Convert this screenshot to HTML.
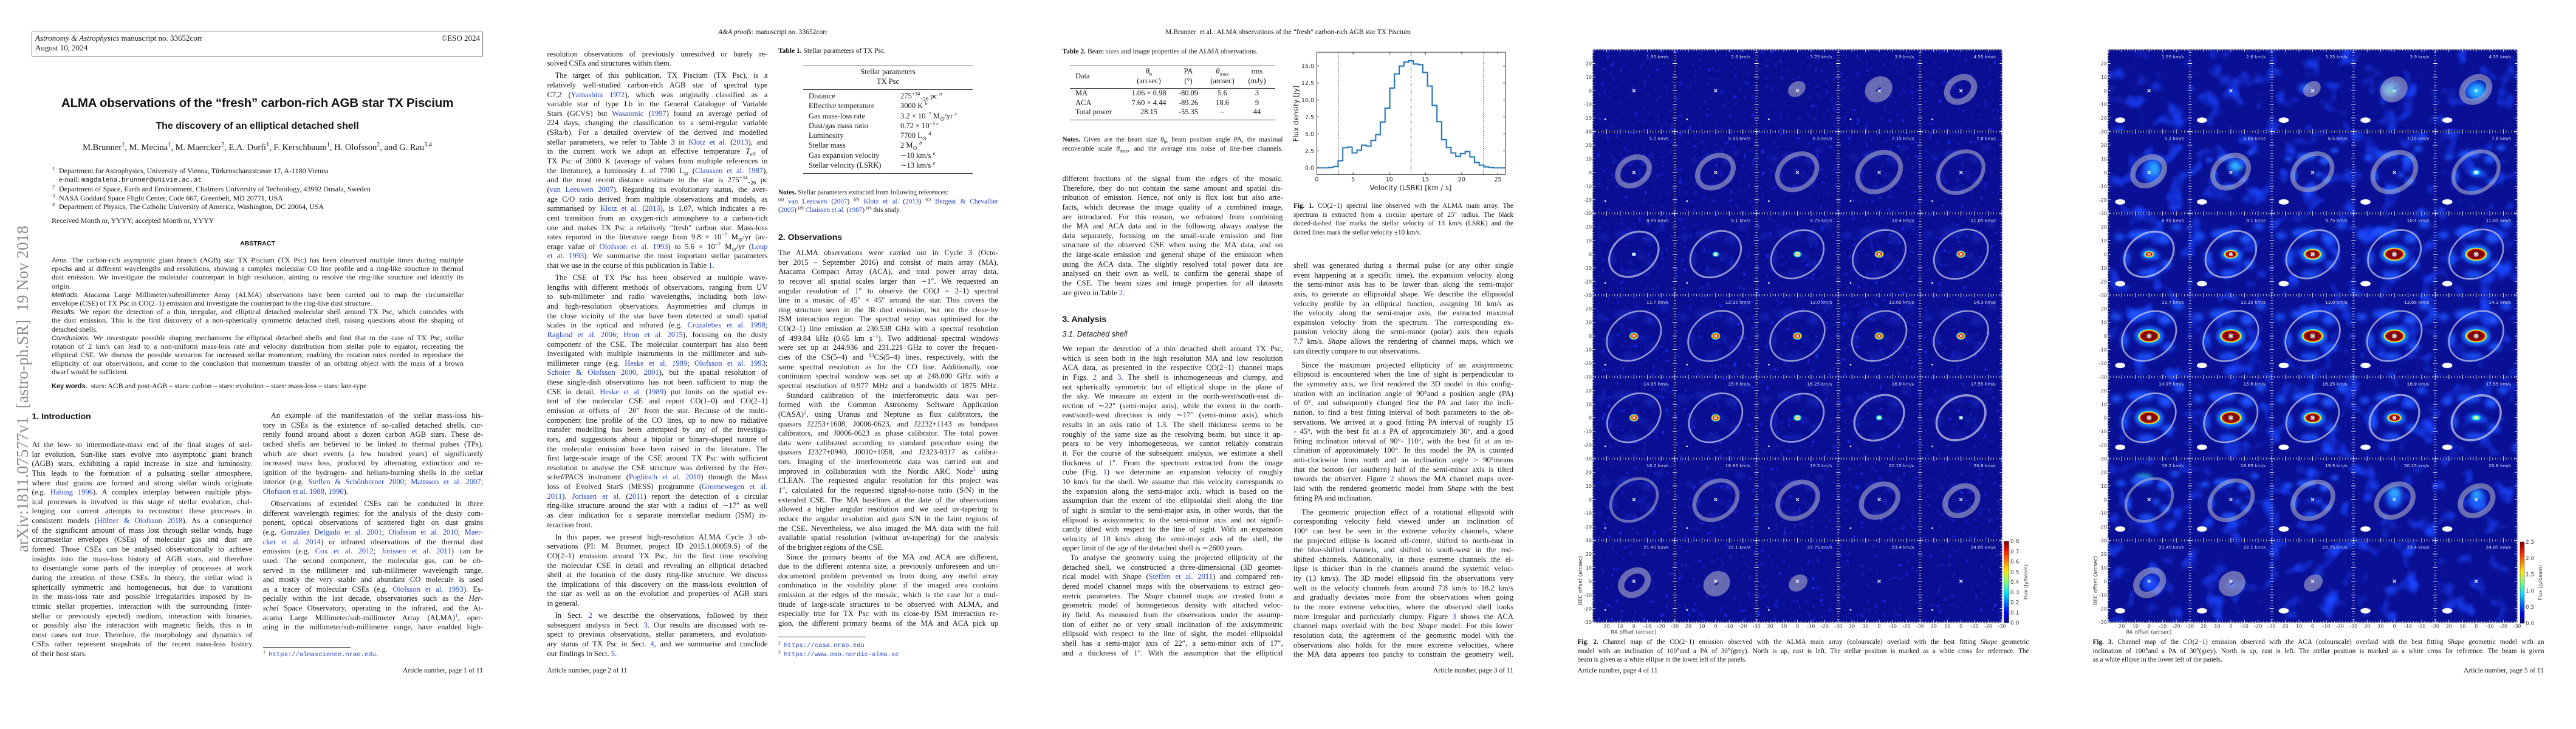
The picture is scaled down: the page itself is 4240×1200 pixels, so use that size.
<!DOCTYPE html>
<html><head><meta charset="utf-8">
<style>
*{margin:0;padding:0;box-sizing:border-box}
body{width:4240px;height:1200px;position:relative;background:#fff;overflow:hidden;font-family:"Liberation Serif",serif;color:#141414}
.pg{position:absolute;top:0;width:848px;height:1200px;overflow:hidden;background:#fff}
.a{position:absolute}
.col{position:absolute;font-size:12.6px;overflow:hidden}
.L{height:15.65px;line-height:15.65px;overflow:hidden;text-align:justify;text-align-last:justify}
.e{text-align-last:left}
.i{text-indent:13px}
.g{margin-top:4.3px}
.g7{margin-top:7.3px}
.c{color:#2343c4}
.sans{font-family:"Liberation Sans",sans-serif}
.mono{font-family:"Liberation Mono",monospace}
.cap{position:absolute;font-size:11.2px}
.cap .L{height:14.5px;line-height:14.5px}
.hd{position:absolute;left:0;width:848px;text-align:center;font-size:11.5px;line-height:15px;top:46px}
.an{position:absolute;font-size:11.5px;line-height:15px;top:1097px}
sup,sub{font-size:70%;line-height:0}
.h2{position:absolute;font-family:"Liberation Sans",sans-serif;font-size:14px;font-weight:bold;line-height:16px}
.rule{position:absolute;border-top:1px solid #333;height:0}
.ab .L{height:14.2px;line-height:14.2px}
</style></head><body>

<svg width="0" height="0" style="position:absolute;left:0;top:0">
<defs>
<linearGradient id="jet" x1="0" y1="1" x2="0" y2="0">
<stop offset="0" stop-color="#00007f"/><stop offset=".12" stop-color="#0000ff"/><stop offset=".36" stop-color="#00e0ff"/><stop offset=".5" stop-color="#7dff7a"/><stop offset=".64" stop-color="#ffe600"/><stop offset=".88" stop-color="#ff1400"/><stop offset="1" stop-color="#7f0000"/>
</linearGradient>
<filter id="bl" x="-60%" y="-60%" width="220%" height="220%"><feGaussianBlur stdDeviation="1.2"/></filter>
<filter id="bl2" x="-60%" y="-60%" width="220%" height="220%"><feGaussianBlur stdDeviation="1.8"/></filter>
<filter id="nz4" filterUnits="userSpaceOnUse" x="0" y="0" width="300" height="420" color-interpolation-filters="sRGB"><feTurbulence type="fractalNoise" baseFrequency=".3" numOctaves="2" seed="4"/><feColorMatrix type="matrix" values="0 0 0 0 .08 0 0 0 0 .16 0 0 0 0 .9 5 0 0 0 -3.2"/></filter>
<filter id="nz5" filterUnits="userSpaceOnUse" x="0" y="0" width="300" height="420" color-interpolation-filters="sRGB"><feTurbulence type="fractalNoise" baseFrequency=".07" numOctaves="2" seed="9"/><feColorMatrix type="matrix" values="0 0 0 0 .1 0 0 0 0 .27 0 0 0 0 1 3.5 0 0 0 -1.95"/></filter>
<pattern id="p4" width="60" height="60" patternUnits="userSpaceOnUse"><path d="M28.9 28.9L31.1 31.1M28.9 31.1L31.1 28.9" stroke="#fff" stroke-width=".55"/><circle cx="9" cy="51" r=".6" fill="#fff"/></pattern>
<pattern id="p5" width="60" height="60" patternUnits="userSpaceOnUse"><path d="M28.9 28.9L31.1 31.1M28.9 31.1L31.1 28.9" stroke="#fff" stroke-width=".55"/><ellipse cx="8.8" cy="51.6" rx="3.7" ry="2" fill="#fff"/></pattern>

<g id="rings" fill="none" stroke="#b8b8cc" stroke-opacity=".55">
<ellipse transform="translate(149.5 28.8) rotate(-35)" rx="6.9" ry="5.3" fill="#b8b8cc" fill-opacity=".55" stroke="none"/>
<ellipse transform="translate(209.6 29) rotate(-35)" rx="6.5" ry="5" stroke-width="8"/>
<ellipse transform="translate(269.7 29.1) rotate(-35)" rx="10.65" ry="8.2" stroke-width="4.5"/>
<ellipse transform="translate(29.7 89.2) rotate(-35)" rx="12.45" ry="9.6" stroke-width="3.9"/>
<ellipse transform="translate(89.8 89.4) rotate(-35)" rx="14.1" ry="10.9" stroke-width="3.6"/>
<ellipse transform="translate(149.8 89.5) rotate(-35)" rx="15.6" ry="12" stroke-width="3.4"/>
<ellipse transform="translate(209.9 89.7) rotate(-35)" rx="16.95" ry="13.1" stroke-width="3.5"/>
<ellipse transform="translate(269.9 89.8) rotate(-35)" rx="17.9" ry="13.8" stroke-width="2.8"/>
<g stroke="#d0d0e8" stroke-opacity=".7">
<ellipse transform="translate(30 150) rotate(-35)" rx="19.5" ry="15" stroke-width="1.4"/>
<ellipse transform="translate(90 150) rotate(-35)" rx="20" ry="15.4" stroke-width="1.3"/>
<ellipse transform="translate(150 150) rotate(-35)" rx="20.8" ry="16" stroke-width="1.2"/>
<ellipse transform="translate(210 150) rotate(-35)" rx="20.9" ry="16.1" stroke-width="1.2"/>
<ellipse transform="translate(270 150) rotate(-35)" rx="21.3" ry="16.4" stroke-width="1.2"/>
<ellipse transform="translate(30 210) rotate(-35)" rx="21.4" ry="16.5" stroke-width="1.2"/>
<ellipse transform="translate(90 210) rotate(-35)" rx="21.7" ry="16.7" stroke-width="1.2"/>
<ellipse transform="translate(150 210) rotate(-35)" rx="21.5" ry="16.6" stroke-width="1.2"/>
<ellipse transform="translate(210 210) rotate(-35)" rx="21.5" ry="16.6" stroke-width="1.2"/>
<ellipse transform="translate(270 210) rotate(-35)" rx="21.5" ry="16.6" stroke-width="1.2"/>
<ellipse transform="translate(30 270) rotate(-35)" rx="21.1" ry="16.2" stroke-width="1.2"/>
<ellipse transform="translate(90 270) rotate(-35)" rx="21.1" ry="16.2" stroke-width="1.2"/>
<ellipse transform="translate(150 270) rotate(-35)" rx="20.8" ry="16" stroke-width="1.2"/>
<ellipse transform="translate(210 270) rotate(-35)" rx="19.6" ry="15.1" stroke-width="1.4"/>
<ellipse transform="translate(270 270) rotate(-35)" rx="19.3" ry="14.9" stroke-width="1.6"/>
</g>
<ellipse transform="translate(30.1 330.3) rotate(-35)" rx="18.4" ry="14.2" stroke-width="2"/>
<ellipse transform="translate(90.2 330.5) rotate(-35)" rx="17" ry="13.1" stroke-width="3"/>
<ellipse transform="translate(150.2 330.6) rotate(-35)" rx="15.8" ry="12.2" stroke-width="3.4"/>
<ellipse transform="translate(210.3 330.8) rotate(-35)" rx="14.4" ry="11.1" stroke-width="3.6"/>
<ellipse transform="translate(270.3 330.9) rotate(-35)" rx="12.8" ry="9.9" stroke-width="3.9"/>
<ellipse transform="translate(30.4 391) rotate(-35)" rx="10.5" ry="8.1" stroke-width="4.6"/>
<ellipse transform="translate(90.8 391.8) rotate(-35)" rx="6.1" ry="4.7" stroke-width="8.2"/>
<ellipse transform="translate(150.5 391.2) rotate(-35)" rx="7.4" ry="5.7" fill="#b8b8cc" fill-opacity=".55" stroke="none"/>
</g>

<g id="tk" fill="none">
<path d="M0 0V420M60 0V420M120 0V420M180 0V420M240 0V420M300 0V420M0 0H300M0 60H300M0 120H300M0 180H300M0 240H300M0 300H300M0 360H300M0 420H300" stroke="#0a0a30" stroke-width=".4"/>
<path d="M0 0V420M60 0V420M120 0V420M180 0V420M240 0V420M300 0V420M0 0H300M0 60H300M0 120H300M0 180H300M0 240H300M0 300H300M0 360H300M0 420H300" stroke="#e6e6ff" stroke-width="1.6" stroke-dasharray=".35 1.65" stroke-dashoffset=".175"/>
<path d="M0 0V420M60 0V420M120 0V420M180 0V420M240 0V420M300 0V420M0 0H300M0 60H300M0 120H300M0 180H300M0 240H300M0 300H300M0 360H300M0 420H300" stroke="#e6e6ff" stroke-width="3.2" stroke-dasharray=".45 9.55" stroke-dashoffset=".225"/>
</g>

<g id="vl" font-family="DejaVu Sans, sans-serif" font-size="3.3" fill="#dcdcf0" text-anchor="end">
<text x="55.5" y="6.3">1.95 km/s</text><text x="115.5" y="6.3">2.6 km/s</text><text x="175.5" y="6.3">3.25 km/s</text><text x="235.5" y="6.3">3.9 km/s</text><text x="295.5" y="6.3">4.55 km/s</text>
<text x="55.5" y="66.3">5.2 km/s</text><text x="115.5" y="66.3">5.85 km/s</text><text x="175.5" y="66.3">6.5 km/s</text><text x="235.5" y="66.3">7.15 km/s</text><text x="295.5" y="66.3">7.8 km/s</text>
<text x="55.5" y="126.3">8.45 km/s</text><text x="115.5" y="126.3">9.1 km/s</text><text x="175.5" y="126.3">9.75 km/s</text><text x="235.5" y="126.3">10.4 km/s</text><text x="295.5" y="126.3">11.05 km/s</text>
<text x="55.5" y="186.3">11.7 km/s</text><text x="115.5" y="186.3">12.35 km/s</text><text x="175.5" y="186.3">13.0 km/s</text><text x="235.5" y="186.3">13.65 km/s</text><text x="295.5" y="186.3">14.3 km/s</text>
<text x="55.5" y="246.3">14.95 km/s</text><text x="115.5" y="246.3">15.6 km/s</text><text x="175.5" y="246.3">16.25 km/s</text><text x="235.5" y="246.3">16.9 km/s</text><text x="295.5" y="246.3">17.55 km/s</text>
<text x="55.5" y="306.3">18.2 km/s</text><text x="115.5" y="306.3">18.85 km/s</text><text x="175.5" y="306.3">19.5 km/s</text><text x="235.5" y="306.3">20.15 km/s</text><text x="295.5" y="306.3">20.8 km/s</text>
<text x="55.5" y="366.3">21.45 km/s</text><text x="115.5" y="366.3">22.1 km/s</text><text x="175.5" y="366.3">22.75 km/s</text><text x="235.5" y="366.3">23.4 km/s</text><text x="295.5" y="366.3">24.05 km/s</text>
</g>

<g id="yl" font-family="DejaVu Sans, sans-serif" font-size="8" fill="#333" text-anchor="end">
<text x="76" y="25.4">20</text><text x="76" y="47.9">10</text><text x="76" y="70.3">0</text><text x="76" y="92.7">-10</text><text x="76" y="115.2">-20</text><text x="76" y="137.6">-30</text>
</g>
<g id="xl" font-family="DejaVu Sans, sans-serif" font-size="8" fill="#333" text-anchor="middle">
<text x="22.4" y="1033.5">20</text><text x="44.9" y="1033.5">10</text><text x="67.3" y="1033.5">0</text><text x="89.7" y="1033.5">-10</text><text x="112.2" y="1033.5">-20</text><text x="134.6" y="1033.5">-30</text>
</g>

<g id="rc" filter="url(#bl2)">
<ellipse cx="-6" cy="-16" rx="10" ry="3.5"/><ellipse cx="12" cy="-12" rx="5" ry="4"/><ellipse cx="14" cy="8" rx="4.5" ry="3"/><ellipse cx="-2" cy="15" rx="7" ry="2.5"/><ellipse cx="-18" cy="3" rx="2.5" ry="6"/><ellipse cx="-24" cy="-14" rx="4" ry="2.5"/><ellipse cx="22" cy="-22" rx="4" ry="2.5"/><ellipse cx="6" cy="2" rx="3" ry="2.5"/>
</g>

<g id="a1"><ellipse rx="1.6" ry="1.3" fill="#5ab0ff"/><ellipse rx=".8" ry=".7" fill="#d0f0ff"/></g>
<g id="a2"><ellipse rx="2.4" ry="1.9" fill="#00b8ff"/><ellipse rx="1.5" ry="1.2" fill="#70ff90"/></g>
<g id="a3"><ellipse rx="2.9" ry="2.3" fill="#00c8ff"/><ellipse rx="2.1" ry="1.7" fill="#c8ff30"/><ellipse rx="1.3" ry="1" fill="#ff7000"/></g>
<g id="a4"><ellipse rx="3.4" ry="2.8" fill="#00c0ff"/><ellipse rx="2.8" ry="2.3" fill="#ffe000"/><ellipse rx="2.2" ry="1.8" fill="#ff2a00"/><ellipse rx="1.5" ry="1.2" fill="#c00000"/><circle r="1" fill="#b09090"/></g>

<g id="b1"><ellipse rx="4.5" ry="3.2" fill="#1a6cff" filter="url(#bl)"/><ellipse rx="2.6" ry="1.7" fill="#30d0ff"/><ellipse rx="1.5" ry="1" fill="#c0ffd0"/></g>
<g id="b2"><ellipse rx="6" ry="4" fill="#1a6cff" filter="url(#bl)"/><ellipse rx="4" ry="2.6" fill="#10d8ff"/><ellipse rx="3.2" ry="2.1" fill="#ffe000"/><ellipse rx="2.5" ry="1.6" fill="#e01000"/></g>
<g id="b3"><ellipse rx="7.5" ry="5" fill="#1a6cff" filter="url(#bl)"/><ellipse rx="5.4" ry="3.4" fill="#10d8ff"/><ellipse rx="5" ry="3.1" fill="#80ff70"/><ellipse rx="4.7" ry="2.9" fill="#ffe000"/><ellipse rx="4.1" ry="2.5" fill="#ff1800"/><ellipse rx="3.3" ry="2" fill="#8c0000"/><circle r="1.6" fill="#a08080"/></g>
<g id="b4"><ellipse rx="9" ry="6" fill="#1a6cff" filter="url(#bl)"/><ellipse rx="6.8" ry="4.2" fill="#10d8ff"/><ellipse rx="6.3" ry="3.9" fill="#80ff70"/><ellipse rx="5.9" ry="3.6" fill="#ffe000"/><ellipse rx="5.3" ry="3.2" fill="#ff1800"/><ellipse rx="4.6" ry="2.7" fill="#880000"/><circle r="1.8" fill="#a48484"/></g>
<g id="b5"><ellipse rx="10.5" ry="7" fill="#1a6cff" filter="url(#bl)"/><ellipse rx="8.2" ry="5" fill="#10d0ff"/><ellipse rx="7.8" ry="4.7" fill="#80ff70"/><ellipse rx="7.4" ry="4.5" fill="#ffe000"/><ellipse rx="6.7" ry="4" fill="#ff1800"/><ellipse rx="6" ry="3.5" fill="#840000"/><circle r="2" fill="#a48484"/></g>
<g id="b6"><ellipse rx="4.8" ry="3.3" fill="#1a6cff" filter="url(#bl)"/><ellipse rx="3.2" ry="2" fill="#00e0ff"/><ellipse rx="2" ry="1.3" fill="#a0ff60"/></g>
</defs></svg>

<!-- PAGE 1 -->
<div class="pg" style="left:0">
<div class="a" style="left:52px;top:52px;width:743px;height:41px;border:1px solid #777"></div>
<div class="a" style="left:58px;top:55px;font-size:13px;line-height:16px"><i>Astronomy &amp; Astrophysics</i> manuscript no. 33652corr<br>August 10, 2024</div>
<div class="a" style="right:58px;top:55px;font-size:13px;line-height:16px">©ESO 2024</div>
<div class="a sans" style="left:52px;width:743px;top:157px;text-align:center;font-size:20.5px;font-weight:bold;line-height:26px;white-space:nowrap;letter-spacing:-0.2px">ALMA observations of the “fresh” carbon-rich AGB star TX Piscium</div>
<div class="a sans" style="left:52px;width:743px;top:198px;text-align:center;font-size:16px;font-weight:bold;line-height:20px">The discovery of an elliptical detached shell</div>
<div class="a" style="left:52px;width:743px;top:234px;text-align:center;font-size:14.5px;line-height:18px;white-space:nowrap">M.Brunner<sup>1</sup>, M. Mecina<sup>1</sup>, M. Maercker<sup>2</sup>, E.A. Dorfi<sup>1</sup>, F. Kerschbaum<sup>1</sup>, H. Olofsson<sup>2</sup>, and G. Rau<sup>3,4</sup></div>
<div class="a" style="left:86px;top:274px;font-size:12px;line-height:14.2px;white-space:nowrap">
<div><span style="display:inline-block;width:11px"><sup>1</sup></span>Department for Astrophysics, University of Vienna, Türkenschanzstrasse 17, A-1180 Vienna</div>
<div><span style="display:inline-block;width:11px"></span>e-mail: <span class="mono" style="font-size:11px">magdalena.brunner@univie.ac.at</span></div>
<div><span style="display:inline-block;width:11px"><sup>2</sup></span>Department of Space, Earth and Environment, Chalmers University of Technology, 43992 Onsala, Sweden</div>
<div><span style="display:inline-block;width:11px"><sup>3</sup></span>NASA Goddard Space Flight Center, Code 667, Greenbelt, MD 20771, USA</div>
<div><span style="display:inline-block;width:11px"><sup>4</sup></span>Department of Physics, The Catholic University of America, Washington, DC 20064, USA</div>
</div>
<div class="a" style="left:85px;top:356px;font-size:12px;line-height:14px">Received Month nr, YYYY; accepted Month nr, YYYY</div>
<div class="a sans" style="left:0;width:848px;top:394px;text-align:center;font-size:10.5px;font-weight:bold;line-height:14px">ABSTRACT</div>
<div class="col ab" style="left:85px;top:421px;width:678px;font-size:12px">
<div class="L"><i class="sans" style="font-size:11px">Aims.</i> The carbon-rich asymptotic giant branch (AGB) star TX Piscium (TX Psc) has been observed multiple times during multiple</div>
<div class="L">epochs and at different wavelengths and resolutions, showing a complex molecular CO line profile and a ring-like structure in thermal</div>
<div class="L">dust emission. We investigate the molecular counterpart in high resolution, aiming to resolve the ring-like structure and identify its</div>
<div class="L e">origin.</div>
<div class="L"><i class="sans" style="font-size:11px">Methods.</i> Atacama Large Millimeter/submillimeter Array (ALMA) observations have been carried out to map the circumstellar</div>
<div class="L e">envelope (CSE) of TX Psc in CO(2–1) emission and investigate the counterpart to the ring-like dust structure.</div>
<div class="L"><i class="sans" style="font-size:11px">Results.</i> We report the detection of a thin, irregular, and elliptical detached molecular shell around TX Psc, which coincides with</div>
<div class="L">the dust emission. This is the first discovery of a non-spherically symmetric detached shell, raising questions about the shaping of</div>
<div class="L e">detached shells.</div>
<div class="L"><i class="sans" style="font-size:11px">Conclusions.</i> We investigate possible shaping mechanisms for elliptical detached shells and find that in the case of TX Psc, stellar</div>
<div class="L">rotation of 2 km/s can lead to a non-uniform mass-loss rate and velocity distribution from stellar pole to equator, recreating the</div>
<div class="L">elliptical CSE. We discuss the possible scenarios for increased stellar momentum, enabling the rotation rates needed to reproduce the</div>
<div class="L">ellipticity of our observations, and come to the conclusion that momentum transfer of an orbiting object with the mass of a brown</div>
<div class="L e">dwarf would be sufficient.</div>
</div>
<div class="a" style="left:85px;top:628px;font-size:12px;line-height:14px"><b class="sans" style="font-size:11px">Key words.</b>&nbsp; stars: AGB and post-AGB – stars: carbon – stars: evolution – stars: mass-loss – stars: late-type</div>
<div class="h2" style="left:52.5px;top:677px">1. Introduction</div>
<div class="col" style="left:52.5px;top:725px;width:363px;height:362px">
<div class="L">At the low- to intermediate-mass end of the final stages of stel-</div>
<div class="L">lar evolution, Sun-like stars evolve into asymptotic giant branch</div>
<div class="L">(AGB) stars, exhibiting a rapid increase in size and luminosity.</div>
<div class="L">This leads to the formation of a pulsating stellar atmosphere,</div>
<div class="L">where dust grains are formed and strong stellar winds originate</div>
<div class="L">(e.g. <span class="c">Habing 1996</span>). A complex interplay between multiple phys-</div>
<div class="L">ical processes is involved in this stage of stellar evolution, chal-</div>
<div class="L">lenging our current attempts to reconstruct these processes in</div>
<div class="L">consistent models (<span class="c">Höfner &amp; Olofsson 2018</span>). As a consequence</div>
<div class="L">of the significant amount of mass lost through stellar winds, huge</div>
<div class="L">circumstellar envelopes (CSEs) of molecular gas and dust are</div>
<div class="L">formed. Those CSEs can be analysed observationally to achieve</div>
<div class="L">insights into the mass-loss history of AGB stars, and therefore</div>
<div class="L">to disentangle some parts of the interplay of processes at work</div>
<div class="L">during the creation of these CSEs. In theory, the stellar wind is</div>
<div class="L">spherically symmetric and homogeneous, but due to variations</div>
<div class="L">in the mass-loss rate and possible irregularities imposed by in-</div>
<div class="L">trinsic stellar properties, interaction with the surrounding (inter-</div>
<div class="L">stellar or previously ejected) medium, interaction with binaries,</div>
<div class="L">or possibly also the interaction with magnetic fields, this is in</div>
<div class="L">most cases not true. Therefore, the morphology and dynamics of</div>
<div class="L">CSEs rather represent snapshots of the recent mass-loss history</div>
<div class="L e">of their host stars.</div>
</div>
<div class="col" style="left:432.7px;top:677px;width:362.5px;height:368px">
<div class="L i">An example of the manifestation of the stellar mass-loss his-</div>
<div class="L">tory in CSEs is the existence of so-called detached shells, cur-</div>
<div class="L">rently found around about a dozen carbon AGB stars. These de-</div>
<div class="L">tached shells are believed to be linked to thermal pulses (TPs),</div>
<div class="L">which are short events (a few hundred years) of significantly</div>
<div class="L">increased mass loss, produced by alternating extinction and re-</div>
<div class="L">ignition of the hydrogen- and helium-burning shells in the stellar</div>
<div class="L">interior (e.g. <span class="c">Steffen &amp; Schönberner 2000</span>; <span class="c">Mattsson et al. 2007</span>;</div>
<div class="L e"><span class="c">Olofsson et al. 1988</span>, <span class="c">1990</span>).</div>
<div class="L i g">Observations of extended CSEs can be conducted in three</div>
<div class="L">different wavelength regimes: for the analysis of the dusty com-</div>
<div class="L">ponent, optical observations of scattered light on dust grains</div>
<div class="L">(e.g. <span class="c">González Delgado et al. 2001</span>; <span class="c">Olofsson et al. 2010</span>; <span class="c">Maer-</span></div>
<div class="L"><span class="c">cker et al. 2014</span>) or infrared observations of the thermal dust</div>
<div class="L">emission (e.g. <span class="c">Cox et al. 2012</span>; <span class="c">Jorissen et al. 2011</span>) can be</div>
<div class="L">used. The second component, the molecular gas, can be ob-</div>
<div class="L">served in the millimeter and sub-millimeter wavelength range,</div>
<div class="L">and mostly the very stable and abundant CO molecule is used</div>
<div class="L">as a tracer of molecular CSEs (e.g. <span class="c">Olofsson et al. 1993</span>). Es-</div>
<div class="L">pecially within the last decade, observatories such as the <i>Her-</i></div>
<div class="L"><i>schel</i> Space Observatory, operating in the infrared, and the At-</div>
<div class="L">acama Large Millimeter/sub-millimeter Array (ALMA)<sup class="c">1</sup>, oper-</div>
<div class="L">ating in the millimeter/sub-millimeter range, have enabled high-</div>
</div>
<div class="rule" style="left:433px;top:1065px;width:144px"></div>
<div class="a" style="left:433px;top:1070px;font-size:11px;line-height:14px"><sup>1</sup>&nbsp; <span class="mono c" style="font-size:10.5px">https://almascience.nrao.edu</span>.</div>
<div class="an" style="right:53px">Article number, page 1 of 11</div>
<div class="a" style="left:22px;top:909px;transform-origin:0 0;transform:rotate(-90deg);font-size:27px;line-height:30px;white-space:pre;color:#8c8c8c">arXiv:1811.07577v1  [astro-ph.SR]  19 Nov 2018</div>
</div>

<!-- PAGE 2 -->
<div class="pg" style="left:848px">
<div class="hd"><i>A&amp;A proofs:</i> manuscript no. 33652corr</div>
<div class="col" style="left:52.5px;top:81.7px;width:363px;height:1005px">
<div class="L">resolution observations of previously unresolved or barely re-</div>
<div class="L e">solved CSEs and structures within them.</div>
<div class="L i g">The target of this publication, TX Piscium (TX Psc), is a</div>
<div class="L">relatively well-studied carbon-rich AGB star of spectral type</div>
<div class="L">C7,2 (<span class="c">Yamashita 1972</span>), which was originally classified as a</div>
<div class="L">variable star of type Lb in the General Catalogue of Variable</div>
<div class="L">Stars (GCVS) but <span class="c">Wasatonic</span> (<span class="c">1997</span>) found an average period of</div>
<div class="L">224 days, changing the classification to a semi-regular variable</div>
<div class="L">(SRa/b). For a detailed overview of the derived and modelled</div>
<div class="L">stellar parameters, we refer to Table 3 in <span class="c">Klotz et al.</span> (<span class="c">2013</span>), and</div>
<div class="L">in the current work we adopt an effective temperature <i>T</i><sub>eff</sub> of</div>
<div class="L">TX Psc of 3000 K (average of values from multiple references in</div>
<div class="L">the literature), a luminosity <i>L</i> of 7700 L<sub>⊙</sub> (<span class="c">Claussen et al. 1987</span>),</div>
<div class="L">and the most recent distance estimate to the star is 275<sup>+34</sup><sub>−26</sub> pc</div>
<div class="L">(<span class="c">van Leeuwen 2007</span>). Regarding its evolutionary status, the aver-</div>
<div class="L">age C/O ratio derived from multiple observations and models, as</div>
<div class="L">summarised by <span class="c">Klotz et al.</span> (<span class="c">2013</span>), is 1.07, which indicates a re-</div>
<div class="L">cent transition from an oxygen-rich atmosphere to a carbon-rich</div>
<div class="L">one and makes TX Psc a relatively "fresh" carbon star. Mass-loss</div>
<div class="L">rates reported in the literature range from 9.8 × 10<sup>−7</sup> M<sub>⊙</sub>/yr (av-</div>
<div class="L">erage value of <span class="c">Olofsson et al. 1993</span>) to 5.6 × 10<sup>−7</sup> M<sub>⊙</sub>/yr (<span class="c">Loup</span></div>
<div class="L"><span class="c">et al. 1993</span>). We summarise the most important stellar parameters</div>
<div class="L e">that we use in the course of this publication in Table <span class="c">1</span>.</div>
<div class="L i g">The CSE of TX Psc has been observed at multiple wave-</div>
<div class="L">lengths with different methods of observations, ranging from UV</div>
<div class="L">to sub-millimeter and radio wavelengths, including both low-</div>
<div class="L">and high-resolution observations. Asymmetries and clumps in</div>
<div class="L">the close vicinity of the star have been detected at small spatial</div>
<div class="L">scales in the optical and infrared (e.g. <span class="c">Cruzalebes et al. 1998</span>;</div>
<div class="L"><span class="c">Ragland et al. 2006</span>; <span class="c">Hron et al. 2015</span>), focusing on the dusty</div>
<div class="L">component of the CSE. The molecular counterpart has also been</div>
<div class="L">investigated with multiple instruments in the millimeter and sub-</div>
<div class="L">millimeter range (e.g. <span class="c">Heske et al. 1989</span>; <span class="c">Olofsson et al. 1993</span>;</div>
<div class="L"><span class="c">Schöier &amp; Olofsson 2000</span>, <span class="c">2001</span>), but the spatial resolution of</div>
<div class="L">these single-dish observations has not been sufficient to map the</div>
<div class="L">CSE in detail. <span class="c">Heske et al.</span> (<span class="c">1989</span>) put limits on the spatial ex-</div>
<div class="L">tent of the molecular CSE and report CO(1–0) and CO(2–1)</div>
<div class="L">emission at offsets of &nbsp;20″ from the star. Because of the multi-</div>
<div class="L">component line profile of the CO lines, up to now no radiative</div>
<div class="L">transfer modelling has been attempted by any of the investiga-</div>
<div class="L">tors, and suggestions about a bipolar or binary-shaped nature of</div>
<div class="L">the molecular emission have been raised in the literature. The</div>
<div class="L">first large-scale image of the CSE around TX Psc with sufficient</div>
<div class="L">resolution to analyse the CSE structure was delivered by the <i>Her-</i></div>
<div class="L"><i>schel</i>/PACS instrument (<span class="c">Poglitsch et al. 2010</span>) through the Mass</div>
<div class="L">loss of Evolved StarS (MESS) programme (<span class="c">Groenewegen et al.</span></div>
<div class="L"><span class="c">2011</span>). <span class="c">Jorissen et al.</span> (<span class="c">2011</span>) report the detection of a circular</div>
<div class="L">ring-like structure around the star with a radius of ∼17″ as well</div>
<div class="L">as clear indication for a separate interstellar medium (ISM) in-</div>
<div class="L e">teraction front.</div>
<div class="L i g">In this paper, we present high-resolution ALMA Cycle 3 ob-</div>
<div class="L">servations (PI: M. Brunner, project ID 2015.1.00059.S) of the</div>
<div class="L">CO(2–1) emission around TX Psc, for the first time resolving</div>
<div class="L">the molecular CSE in detail and revealing an elliptical detached</div>
<div class="L">shell at the location of the dusty ring-like structure. We discuss</div>
<div class="L">the implications of this discovery on the mass-loss evolution of</div>
<div class="L">the star as well as on the evolution and properties of AGB stars</div>
<div class="L e">in general.</div>
<div class="L i g">In Sect. <span class="c">2</span> we describe the observations, followed by their</div>
<div class="L">subsequent analysis in Sect. <span class="c">3</span>. Our results are discussed with re-</div>
<div class="L">spect to previous observations, stellar parameters, and evolution-</div>
<div class="L">ary status of TX Psc in Sect. <span class="c">4</span>, and we summarise and conclude</div>
<div class="L e">our findings in Sect. <span class="c">5</span>.</div>
</div>
<div class="a" style="left:433px;top:77px;font-size:11.5px;line-height:14px"><b>Table 1.</b> Stellar parameters of TX Psc.</div>
<div class="rule" style="left:474px;top:108px;width:279px"></div>
<div class="a" style="left:474px;top:110px;width:279px;text-align:center;font-size:12.5px;line-height:16px">Stellar parameters<br>TX Psc</div>
<div class="rule" style="left:474px;top:147px;width:279px"></div>
<div class="a" style="left:483px;top:150px;width:270px;font-size:12.5px;line-height:16.3px;white-space:nowrap">
<div>Distance<span class="a" style="left:151px">275<sup>+34</sup><sub>−26</sub> pc <sup><i>a</i></sup></span></div>
<div>Effective temperature<span class="a" style="left:151px">3000 K <sup><i>b</i></sup></span></div>
<div>Gas mass-loss rate<span class="a" style="left:151px">3.2 × 10<sup>−7</sup> M<sub>⊙</sub>/yr <sup><i>c</i></sup></span></div>
<div>Dust/gas mass ratio<span class="a" style="left:151px">0.72 × 10<sup>−3 <i>c</i></sup></span></div>
<div>Luminosity<span class="a" style="left:151px">7700 L<sub>⊙</sub> <sup><i>d</i></sup></span></div>
<div>Stellar mass<span class="a" style="left:151px">2 M<sub>⊙</sub> <sup><i>b</i></sup></span></div>
<div>Gas expansion velocity<span class="a" style="left:151px">∼10 km/s <sup><i>e</i></sup></span></div>
<div>Stellar velocity (LSRK)<span class="a" style="left:151px">∼13 km/s <sup><i>e</i></sup></span></div>
</div>
<div class="rule" style="left:474px;top:285px;width:279px;border-top-width:1.5px"></div>
<div class="cap" style="left:433px;top:310px;width:362px">
<div class="L e"><b>Notes.</b> Stellar parameters extracted from following references:</div>
<div class="L"><sup>(<i>a</i>)</sup> <span class="c">van Leeuwen</span> (<span class="c">2007</span>) <sup>(<i>b</i>)</sup> <span class="c">Klotz et al.</span> (<span class="c">2013</span>) <sup>(<i>c</i>)</sup> <span class="c">Bergeat &amp; Chevallier</span></div>
<div class="L e">(<span class="c">2005</span>) <sup>(<i>d</i>)</sup> <span class="c">Claussen et al.</span> (<span class="c">1987</span>) <sup>(<i>e</i>)</sup> this study.</div>
</div>
<div class="h2" style="left:433px;top:382px">2. Observations</div>
<div class="col" style="left:433px;top:409px;width:362px;height:630px">
<div class="L">The ALMA observations were carried out in Cycle 3 (Octo-</div>
<div class="L">ber 2015 – September 2016) and consist of main array (MA),</div>
<div class="L">Atacama Compact Array (ACA), and total power array data,</div>
<div class="L">to recover all spatial scales larger than ∼1″. We requested an</div>
<div class="L">angular resolution of 1″ to observe the CO(J = 2–1) spectral</div>
<div class="L">line in a mosaic of 45″ × 45″ around the star. This covers the</div>
<div class="L">ring structure seen in the IR dust emission, but not the close-by</div>
<div class="L">ISM interaction region. The spectral setup was optimised for the</div>
<div class="L">CO(2–1) line emission at 230.538 GHz with a spectral resolution</div>
<div class="L">of 499.84 kHz (0.65 km s<sup>−1</sup>). Two additional spectral windows</div>
<div class="L">were set up at 244.936 and 231.221 GHz to cover the frequen-</div>
<div class="L">cies of the CS(5–4) and <sup>13</sup>CS(5–4) lines, respectively, with the</div>
<div class="L">same spectral resolution as for the CO line. Additionally, one</div>
<div class="L">continuum spectral window was set up at 248.000 GHz with a</div>
<div class="L">spectral resolution of 0.977 MHz and a bandwidth of 1875 MHz.</div>
<div class="L i">Standard calibration of the interferometric data was per-</div>
<div class="L">formed with the Common Astronomy Software Application</div>
<div class="L">(CASA)<sup class="c">2</sup>, using Uranus and Neptune as flux calibrators, the</div>
<div class="L">quasars J2253+1608, J0006-0623, and J2232+1143 as bandpass</div>
<div class="L">calibrators, and J0006-0623 as phase calibrator. The total power</div>
<div class="L">data were calibrated according to standard procedure using the</div>
<div class="L">quasars J2327+0940, J0010+1058, and J2323-0317 as calibra-</div>
<div class="L">tors. Imaging of the interferometric data was carried out and</div>
<div class="L">improved in collaboration with the Nordic ARC Node<sup class="c">3</sup> using</div>
<div class="L">CLEAN. The requested angular resolution for this project was</div>
<div class="L">1″, calculated for the requested signal-to-noise ratio (S/N) in the</div>
<div class="L">extended CSE. The MA baselines at the date of the observations</div>
<div class="L">allowed a higher angular resolution and we used uv-tapering to</div>
<div class="L">reduce the angular resolution and gain S/N in the faint regions of</div>
<div class="L">the CSE. Nevertheless, we also imaged the MA data with the full</div>
<div class="L">available spatial resolution (without uv-tapering) for the analysis</div>
<div class="L e">of the brighter regions of the CSE.</div>
<div class="L i">Since the primary beams of the MA and ACA are different,</div>
<div class="L">due to the different antenna size, a previously unforeseen and un-</div>
<div class="L">documented problem prevented us from doing any useful array</div>
<div class="L">combination in the visibility plane: if the imaged area contains</div>
<div class="L">emission at the edges of the mosaic, which is the case for a mul-</div>
<div class="L">titude of large-scale structures to be observed with ALMA, and</div>
<div class="L">especially true for TX Psc with its close-by ISM interaction re-</div>
<div class="L">gion, the different primary beams of the MA and ACA pick up</div>
</div>
<div class="rule" style="left:433px;top:1048px;width:144px"></div>
<div class="a" style="left:433px;top:1055px;font-size:11px;line-height:14px"><sup>2</sup>&nbsp; <span class="mono c" style="font-size:10.5px">https://casa.nrao.edu</span><br><sup>3</sup>&nbsp; <span class="mono c" style="font-size:10.5px">https://www.oso.nordic-alma.se</span></div>
<div class="an" style="left:52.5px">Article number, page 2 of 11</div>
</div>

<!-- PAGE 3 -->
<div class="pg" style="left:1696px">
<div class="hd">M.Brunner &nbsp;et al.: ALMA observations of the “fresh” carbon-rich AGB star TX Piscium</div>
<div class="a" style="left:52.5px;top:78px;font-size:11.5px;line-height:14px"><b>Table 2.</b> Beam sizes and image properties of the ALMA observations.</div>
<div class="rule" style="left:65px;top:108px;width:338px"></div>
<div class="a" style="left:65px;top:109px;width:338px;height:36px;font-size:12.5px;line-height:16px">
<div class="a" style="left:9px;top:8px">Data</div>
<div class="a" style="left:90px;width:80px;text-align:center"><i>θ</i><sub>b</sub><br>(arcsec)</div>
<div class="a" style="left:155px;width:80px;text-align:center">PA<br>(°)</div>
<div class="a" style="left:211px;width:80px;text-align:center"><i>θ</i><sub>max</sub><br>(arcsec)</div>
<div class="a" style="left:268px;width:80px;text-align:center">rms<br>(mJy)</div>
</div>
<div class="rule" style="left:65px;top:145px;width:338px"></div>
<div class="a" style="left:65px;top:146px;width:338px;height:48px;font-size:12.5px;line-height:15.5px">
<div class="a" style="left:9px;top:0">MA<br>ACA<br>Total power</div>
<div class="a" style="left:90px;width:80px;text-align:center">1.06 × 0.98<br>7.60 × 4.44<br>28.15</div>
<div class="a" style="left:155px;width:80px;text-align:center">-80.09<br>-89.26<br>-55.35</div>
<div class="a" style="left:211px;width:80px;text-align:center">5.6<br>18.6<br>–</div>
<div class="a" style="left:268px;width:80px;text-align:center">3<br>9<br>44</div>
</div>
<div class="rule" style="left:65px;top:197px;width:338px;border-top-width:1.5px"></div>
<div class="cap" style="left:52.5px;top:223px;width:363px">
<div class="L"><b>Notes.</b> Given are the beam size <i>θ</i><sub>b</sub>, beam position angle PA, the maximal</div>
<div class="L">recoverable scale <i>θ</i><sub>max</sub>, and the average rms noise of line-free channels.</div>
</div>
<div class="col" style="left:52.5px;top:287px;width:363px;height:206px">
<div class="L">different fractions of the signal from the edges of the mosaic.</div>
<div class="L">Therefore, they do not contain the same amount and spatial dis-</div>
<div class="L">tribution of emission. Hence, not only is flux lost but also arte-</div>
<div class="L">facts, which decrease the image quality of a combined image,</div>
<div class="L">are introduced. For this reason, we refrained from combining</div>
<div class="L">the MA and ACA data and in the following always analyse the</div>
<div class="L">data separately, focusing on the small-scale emission and fine</div>
<div class="L">structure of the observed CSE when using the MA data, and on</div>
<div class="L">the large-scale emission and general shape of the emission when</div>
<div class="L">using the ACA data. The slightly resolved total power data are</div>
<div class="L">analysed on their own as well, to confirm the general shape of</div>
<div class="L">the CSE. The beam sizes and image properties for all datasets</div>
<div class="L e">are given in Table <span class="c">2</span>.</div>
</div>
<div class="h2" style="left:52.5px;top:517px">3. Analysis</div>
<div class="a sans" style="left:52.5px;top:542px;font-size:12.5px;line-height:16px;font-style:italic">3.1. Detached shell</div>
<div class="col" style="left:52.5px;top:567px;width:363px;height:518px">
<div class="L">We report the detection of a thin detached shell around TX Psc,</div>
<div class="L">which is seen both in the high resolution MA and low resolution</div>
<div class="L">ACA data, as presented in the respective CO(2−1) channel maps</div>
<div class="L">in Figs. <span class="c">2</span> and <span class="c">3</span>. The shell is inhomogeneous and clumpy, and</div>
<div class="L">not spherically symmetric but of elliptical shape in the plane of</div>
<div class="L">the sky. We measure an extent in the north-west/south-east di-</div>
<div class="L">rection of ∼22″ (semi-major axis), while the extent in the north-</div>
<div class="L">east/south-west direction is only ∼17″ (semi-minor axis), which</div>
<div class="L">results in an axis ratio of 1.3. The shell thickness seems to be</div>
<div class="L">roughly of the same size as the resolving beam, but since it ap-</div>
<div class="L">pears to be very inhomogeneous, we cannot reliably constrain</div>
<div class="L">it. For the course of the subsequent analysis, we estimate a shell</div>
<div class="L">thickness of 1″. From the spectrum extracted from the image</div>
<div class="L">cube (Fig. <span class="c">1</span>) we determine an expansion velocity of roughly</div>
<div class="L">10 km/s for the shell. We assume that this velocity corresponds to</div>
<div class="L">the expansion along the semi-major axis, which is based on the</div>
<div class="L">assumption that the extent of the ellipsoidal shell along the line</div>
<div class="L">of sight is similar to the semi-major axis, in other words, that the</div>
<div class="L">ellipsoid is axisymmetric to the semi-minor axis and not signifi-</div>
<div class="L">cantly tilted with respect to the line of sight. With an expansion</div>
<div class="L">velocity of 10 km/s along the semi-major axis of the shell, the</div>
<div class="L e">upper limit of the age of the detached shell is ∼2600 years.</div>
<div class="L i">To analyse the geometry using the projected ellipticity of the</div>
<div class="L">detached shell, we constructed a three-dimensional (3D geomet-</div>
<div class="L">rical model with <i>Shape</i> (<span class="c">Steffen et al. 2011</span>) and compared ren-</div>
<div class="L">dered model channel maps with the observations to extract geo-</div>
<div class="L">metric parameters. The <i>Shape</i> channel maps are created from a</div>
<div class="L">geometric model of homogeneous density with attached veloc-</div>
<div class="L">ity field. As measured from the observations under the assump-</div>
<div class="L">tion of either no or very small inclination of the axisymmetric</div>
<div class="L">ellipsoid with respect to the line of sight, the model ellipsoidal</div>
<div class="L">shell has a semi-major axis of 22″, a semi-minor axis of 17″,</div>
<div class="L">and a thickness of 1″. With the assumption that the elliptical</div>
</div>
<svg class="a" style="left:0;top:0" width="848" height="330">
<g font-family="DejaVu Sans, sans-serif" fill="#222">
<path d="M507.3 86V287.3M745.7 86V287.3" stroke="#444" stroke-width="1" stroke-dasharray="1.5 2" fill="none"/>
<path d="M626.5 86V287.3" stroke="#333" stroke-width="1" stroke-dasharray="6 2.5 1.5 2.5" fill="none"/>
<path d="M471.5 276.3H490.9V275.7H498.6V274.1H506.4V264.6H514.1V243.3H521.9V242.2H529.6V251.7H537.4V247.3H545.1V238.9H552.9V240.6H560.6V231.1H568.3V221.6H576.1V200.9H583.8V178H591.6V145H599.3V121.6H607.1V108.8H614.8V102.1H622.6V99.8H630.3V105.4H638.1V106.5H645.8V119.4H653.6V141.7H661.3V173.5H669.1V200.3H676.8V229.9H684.6V242.8H692.3V251.7H700.1V257.3H707.8V252.8H715.6V249.5H723.3V258.4H731.1V267.4H738.8V271.8H746.6V274.6H754.3V275.7H762.1V276.3H781.5" fill="none" stroke="#9cc8ec" stroke-width="3.2" stroke-opacity=".6"/>
<path d="M471.5 276.3H490.9V275.7H498.6V274.1H506.4V264.6H514.1V243.3H521.9V242.2H529.6V251.7H537.4V247.3H545.1V238.9H552.9V240.6H560.6V231.1H568.3V221.6H576.1V200.9H583.8V178H591.6V145H599.3V121.6H607.1V108.8H614.8V102.1H622.6V99.8H630.3V105.4H638.1V106.5H645.8V119.4H653.6V141.7H661.3V173.5H669.1V200.3H676.8V229.9H684.6V242.8H692.3V251.7H700.1V257.3H707.8V252.8H715.6V249.5H723.3V258.4H731.1V267.4H738.8V271.8H746.6V274.6H754.3V275.7H762.1V276.3H781.5" fill="none" stroke="#1f6fb0" stroke-width="1.7"/>
<rect x="471.5" y="86" width="310" height="201.3" fill="none" stroke="#222" stroke-width="1"/>
<path d="M471.5 276.3h3.5M471.5 248.4h3.5M471.5 220.5h3.5M471.5 192.5h3.5M471.5 164.6h3.5M471.5 136.7h3.5M471.5 108.8h3.5M781.5 276.3h-3.5M781.5 248.4h-3.5M781.5 220.5h-3.5M781.5 192.5h-3.5M781.5 164.6h-3.5M781.5 136.7h-3.5M781.5 108.8h-3.5M471.5 287.3v-3.5M531.1 287.3v-3.5M590.7 287.3v-3.5M650.3 287.3v-3.5M709.9 287.3v-3.5M769.5 287.3v-3.5M531.1 86v3.5M590.7 86v3.5M650.3 86v3.5M709.9 86v3.5M769.5 86v3.5" stroke="#222" stroke-width="1" fill="none"/>
<g font-size="9.5" text-anchor="end"><text x="467" y="279.7">0.0</text><text x="467" y="251.8">2.5</text><text x="467" y="223.9">5.0</text><text x="467" y="195.9">7.5</text><text x="467" y="168">10.0</text><text x="467" y="140.1">12.5</text><text x="467" y="112.2">15.0</text></g>
<g font-size="9.5" text-anchor="middle"><text x="471.5" y="298.5">0</text><text x="531.1" y="298.5">5</text><text x="590.7" y="298.5">10</text><text x="650.3" y="298.5">15</text><text x="709.9" y="298.5">20</text><text x="769.5" y="298.5">25</text></g>
<text x="626" y="313" font-size="11.5" text-anchor="middle">Velocity (LSRK) [km / s]</text>
<text transform="translate(441 187) rotate(-90)" font-size="11.5" text-anchor="middle">Flux density [Jy]</text>
</g>
</svg>
<div class="cap" style="left:433px;top:332px;width:362px">
<div class="L"><b>Fig. 1.</b> CO(2−1) spectral line observed with the ALMA main array. The</div>
<div class="L">spectrum is extracted from a circular aperture of 25″ radius. The black</div>
<div class="L">dotted-dashed line marks the stellar velocity of 13 km/s (LSRK) and the</div>
<div class="L e">dotted lines mark the stellar velocity ±10 km/s.</div>
</div>
<div class="col" style="left:433px;top:430px;width:362px;height:660px">
<div class="L">shell was generated during a thermal pulse (or any other single</div>
<div class="L">event happening at a specific time), the expansion velocity along</div>
<div class="L">the semi-minor axis has to be lower than along the semi-major</div>
<div class="L">axis, to generate an ellipsoidal shape. We describe the ellipsoidal</div>
<div class="L">velocity profile by an elliptical function, assigning 10 km/s as</div>
<div class="L">the velocity along the semi-major axis, the extracted maximal</div>
<div class="L">expansion velocity from the spectrum. The corresponding ex-</div>
<div class="L">pansion velocity along the semi-minor (polar) axis then equals</div>
<div class="L">7.7 km/s. <i>Shape</i> allows the rendering of channel maps, which we</div>
<div class="L e">can directly compare to our observations.</div>
<div class="L i g7">Since the maximum projected ellipticity of an axisymmetric</div>
<div class="L">ellipsoid is encountered when the line of sight is perpendicular to</div>
<div class="L">the symmetry axis, we first rendered the 3D model in this config-</div>
<div class="L">uration with an inclination angle of 90°and a position angle (PA)</div>
<div class="L">of 0°, and subsequently changed first the PA and later the incli-</div>
<div class="L">nation, to find a best fitting interval of both parameters to the ob-</div>
<div class="L">servations. We arrived at a good fitting PA interval of roughly 15</div>
<div class="L">- 45°, with the best fit at a PA of approximately 30°, and a good</div>
<div class="L">fitting inclination interval of 90°- 110°, with the best fit at an in-</div>
<div class="L">clination of approximately 100°. In this model the PA is counted</div>
<div class="L">anti-clockwise from north and an inclination angle &gt; 90°means</div>
<div class="L">that the bottom (or southern) half of the semi-minor axis is tilted</div>
<div class="L">towards the observer. Figure <span class="c">2</span> shows the MA channel maps over-</div>
<div class="L">laid with the rendered geometric model from <i>Shape</i> with the best</div>
<div class="L e">fitting PA and inclination.</div>
<div class="L i g7">The geometric projection effect of a rotational ellipsoid with</div>
<div class="L">corresponding velocity field viewed under an inclination of</div>
<div class="L">100° can best be seen in the extreme velocity channels, where</div>
<div class="L">the projected ellipse is located off-centre, shifted to north-east in</div>
<div class="L">the blue-shifted channels, and shifted to south-west in the red-</div>
<div class="L">shifted channels. Additionally, in those extreme channels the el-</div>
<div class="L">lipse is thicker than in the channels around the systemic veloc-</div>
<div class="L">ity (13 km/s). The 3D model ellipsoid fits the observations very</div>
<div class="L">well in the velocity channels from around 7.8 km/s to 18.2 km/s</div>
<div class="L">and gradually deviates more from the observations when going</div>
<div class="L">to the more extreme velocities, where the observed shell looks</div>
<div class="L">more irregular and particularly clumpy. Figure <span class="c">3</span> shows the ACA</div>
<div class="L">channel maps overlaid with the best <i>Shape</i> model. For this lower</div>
<div class="L">resolution data, the agreement of the geometric model with the</div>
<div class="L">observations also holds for the more extreme velocities, where</div>
<div class="L">the MA data appears too patchy to constrain the geometry well.</div>
</div>
<div class="an" style="right:53px">Article number, page 3 of 11</div>
</div>

<!-- PAGE 4 -->
<div class="pg" style="left:2544px">
<svg class="a" style="left:0;top:0" width="848" height="1200">
<g transform="translate(78 82) scale(2.2433)">
<rect width="300" height="420" fill="#0a0e92"/>
<rect width="300" height="420" fill="#fff" filter="url(#nz4)"/>
<g fill="#1a2ec8" opacity=".5">
<use href="#rc" transform="translate(30 90) scale(.58)"/><use href="#rc" transform="translate(90 90) scale(.66)"/><use href="#rc" transform="translate(150 90) scale(.73)"/><use href="#rc" transform="translate(210 90) scale(.79)"/><use href="#rc" transform="translate(270 90) scale(.83)"/>
<use href="#rc" transform="translate(30 150) scale(.91)"/><use href="#rc" transform="translate(90 150) scale(.93)"/><use href="#rc" transform="translate(150 150) scale(.97)"/><use href="#rc" transform="translate(210 150)"/><use href="#rc" transform="translate(270 150)"/>
<use href="#rc" transform="translate(30 210)"/><use href="#rc" transform="translate(90 210)"/><use href="#rc" transform="translate(150 210)"/><use href="#rc" transform="translate(210 210)"/><use href="#rc" transform="translate(270 210)"/>
<use href="#rc" transform="translate(30 270)"/><use href="#rc" transform="translate(90 270)"/><use href="#rc" transform="translate(150 270) scale(.97)"/><use href="#rc" transform="translate(210 270) scale(.91)"/><use href="#rc" transform="translate(270 270) scale(.9)"/>
<use href="#rc" transform="translate(30 330) scale(.86)"/><use href="#rc" transform="translate(90 330) scale(.79)"/><use href="#rc" transform="translate(150 330) scale(.73)"/><use href="#rc" transform="translate(210 330) scale(.67)"/><use href="#rc" transform="translate(270 330) scale(.6)"/>
</g>
<use href="#rings"/>
<use href="#a1" x="30" y="150"/><use href="#a2" x="90" y="150"/><use href="#a3" x="150" y="150"/><use href="#a4" x="210" y="150"/><use href="#a4" x="270" y="150"/>
<use href="#a4" x="30" y="210"/><use href="#a4" x="90" y="210"/><use href="#a4" x="150" y="210"/><use href="#a4" x="210" y="210"/><use href="#a4" x="270" y="210"/>
<use href="#a4" x="30" y="270"/><use href="#a4" x="90" y="270"/><use href="#a3" x="150" y="270"/><use href="#a2" x="210" y="270"/><use href="#a1" x="270" y="270"/>
<rect width="300" height="420" fill="url(#p4)"/>
<use href="#tk"/>
<use href="#vl"/>
</g>
<use href="#yl" y="82"/><use href="#yl" y="216.6"/><use href="#yl" y="351.2"/><use href="#yl" y="485.8"/><use href="#yl" y="620.4"/><use href="#yl" y="755"/><use href="#yl" y="889.6"/>
<use href="#xl" x="78"/><use href="#xl" x="212.6"/><use href="#xl" x="347.2"/><use href="#xl" x="481.8"/><use href="#xl" x="616.4"/>
<g font-family="DejaVu Sans, sans-serif" fill="#333" font-size="8.5">
<text x="145" y="1043.5" text-anchor="middle">RA offset (arcsec)</text>
<text transform="translate(60 956) rotate(-90)" text-anchor="middle">DEC offset (arcsec)</text>
<rect x="754.5" y="891" width="8" height="134" fill="url(#jet)" stroke="#333" stroke-width=".5"/>
<g font-size="9"><text x="765" y="894">0.8</text><text x="765" y="910.8">0.7</text><text x="765" y="927.5">0.6</text><text x="765" y="944.3">0.5</text><text x="765" y="961">0.4</text><text x="765" y="977.8">0.3</text><text x="765" y="994.5">0.2</text><text x="765" y="1011.3">0.1</text><text x="765" y="1028">0.0</text></g>
<text transform="translate(793 958) rotate(-90)" text-anchor="middle" font-size="8">Flux (Jy/beam)</text>
</g>
</svg>
<div class="cap" style="left:52.5px;top:1050px;width:743px">
<div class="L"><b>Fig. 2.</b> Channel map of the CO(2−1) emission observed with the ALMA main array (colourscale) overlaid with the best fitting <i>Shape</i> geometric</div>
<div class="L">model with an inclination of 100°and a PA of 30°(grey). North is up, east is left. The stellar position is marked as a white cross for reference. The</div>
<div class="L e">beam is given as a white ellipse in the lower left of the panels.</div>
</div>
<div class="an" style="left:52.5px">Article number, page 4 of 11</div>
</div>

<!-- PAGE 5 -->
<div class="pg" style="left:3392px">
<svg class="a" style="left:0;top:0" width="848" height="1200">
<g transform="translate(78 82) scale(2.2433)">
<rect width="300" height="420" fill="#0a1096"/>
<rect width="300" height="420" fill="#fff" filter="url(#nz5)"/>
<g filter="url(#bl2)">
<ellipse cx="86" cy="22" rx="4" ry="3" fill="#1534d8"/>
<ellipse cx="144" cy="28" rx="4.5" ry="3" fill="#1e58ff"/>
<ellipse cx="207" cy="29" rx="7" ry="6" fill="#2470ff"/><ellipse cx="206.5" cy="30" rx="3.5" ry="3" fill="#50d8d0"/>
<ellipse cx="270" cy="30" rx="8" ry="7" fill="#1e70ff"/><ellipse cx="270.5" cy="30.5" rx="4.5" ry="4" fill="#28b8ff"/>
<ellipse cx="32" cy="89" rx="7" ry="9" fill="#1a5cff"/><ellipse cx="34" cy="87" rx="4" ry="5" fill="#2aa0ff"/>
<ellipse cx="94" cy="85" rx="5" ry="4" fill="#30b8ff"/>
<ellipse cx="26" cy="314" rx="6" ry="2.5" fill="#30d0d0"/>
<ellipse cx="210" cy="328" rx="6" ry="8" fill="#1e68ff"/><ellipse cx="210" cy="325" rx="3.5" ry="3.5" fill="#30b0ff"/>
<ellipse cx="271" cy="330" rx="6" ry="8" fill="#1a60ff"/><ellipse cx="270" cy="326" rx="3" ry="3" fill="#2aa8ff"/>
<ellipse cx="30" cy="391" rx="5" ry="6" fill="#1a50ff"/>
<ellipse cx="91" cy="393" rx="4" ry="3" fill="#1a48f0"/>
<ellipse cx="154" cy="384" rx="3" ry="3" fill="#1540e0"/>
</g>
<g fill="#1c54ff">
<use href="#rc" transform="translate(90 90) scale(.66)"/><use href="#rc" transform="translate(150 90) scale(.73)"/><use href="#rc" transform="translate(210 90) scale(.79)"/><use href="#rc" transform="translate(270 90) scale(.83)"/>
<use href="#rc" transform="translate(30 150) scale(.91)"/><use href="#rc" transform="translate(90 150) scale(.93)"/><use href="#rc" transform="translate(150 150) scale(.97)"/><use href="#rc" transform="translate(210 150)"/><use href="#rc" transform="translate(270 150)"/>
<use href="#rc" transform="translate(30 210)"/><use href="#rc" transform="translate(90 210)"/><use href="#rc" transform="translate(150 210)"/><use href="#rc" transform="translate(210 210)"/><use href="#rc" transform="translate(270 210)"/>
<use href="#rc" transform="translate(30 270)"/><use href="#rc" transform="translate(90 270)"/><use href="#rc" transform="translate(150 270) scale(.97)"/><use href="#rc" transform="translate(210 270) scale(.91)"/><use href="#rc" transform="translate(270 270) scale(.9)"/>
<use href="#rc" transform="translate(30 330) scale(.86)"/><use href="#rc" transform="translate(90 330) scale(.79)"/><use href="#rc" transform="translate(150 330) scale(.73)"/>
</g>
<use href="#rings"/>
<use href="#b1" x="270" y="90"/>
<use href="#b2" x="30" y="150"/><use href="#b3" x="90" y="150"/><use href="#b4" x="150" y="150"/><use href="#b5" x="210" y="150"/><use href="#b5" x="270" y="150"/>
<use href="#b5" x="30" y="210"/><use href="#b5" x="90" y="210"/><use href="#b5" x="150" y="210"/><use href="#b5" x="210" y="210"/><use href="#b5" x="270" y="210"/>
<use href="#b5" x="30" y="270"/><use href="#b5" x="90" y="270"/><use href="#b4" x="150" y="270"/><use href="#b3" x="210" y="270"/><use href="#b6" x="270" y="270"/>
<rect width="300" height="420" fill="url(#p5)"/>
<use href="#tk"/>
<use href="#vl"/>
</g>
<use href="#yl" y="82"/><use href="#yl" y="216.6"/><use href="#yl" y="351.2"/><use href="#yl" y="485.8"/><use href="#yl" y="620.4"/><use href="#yl" y="755"/><use href="#yl" y="889.6"/>
<use href="#xl" x="78"/><use href="#xl" x="212.6"/><use href="#xl" x="347.2"/><use href="#xl" x="481.8"/><use href="#xl" x="616.4"/>
<g font-family="DejaVu Sans, sans-serif" fill="#333" font-size="8.5">
<text x="145" y="1043.5" text-anchor="middle">RA offset (arcsec)</text>
<text transform="translate(60 956) rotate(-90)" text-anchor="middle">DEC offset (arcsec)</text>
<rect x="756" y="892" width="7" height="134" fill="url(#jet)" stroke="#333" stroke-width=".5"/>
<g font-size="9"><text x="765" y="895">2.5</text><text x="765" y="921.8">2.0</text><text x="765" y="948.6">1.5</text><text x="765" y="975.4">1.0</text><text x="765" y="1002.2">0.5</text><text x="765" y="1029">0.0</text></g>
<text transform="translate(792 959) rotate(-90)" text-anchor="middle" font-size="8">Flux (Jy/beam)</text>
</g>
</svg>
<div class="cap" style="left:52.5px;top:1050px;width:743px">
<div class="L"><b>Fig. 3.</b> Channel map of the CO(2−1) emission observed with the ACA (colourscale) overlaid with the best fitting <i>Shape</i> geometric model with an</div>
<div class="L">inclination of 100°and a PA of 30°(grey). North is up, east is left. The stellar position is marked as a white cross for reference. The beam is given</div>
<div class="L e">as a white ellipse in the lower left of the panels.</div>
</div>
<div class="an" style="right:53px">Article number, page 5 of 11</div>
</div>

</body></html>
